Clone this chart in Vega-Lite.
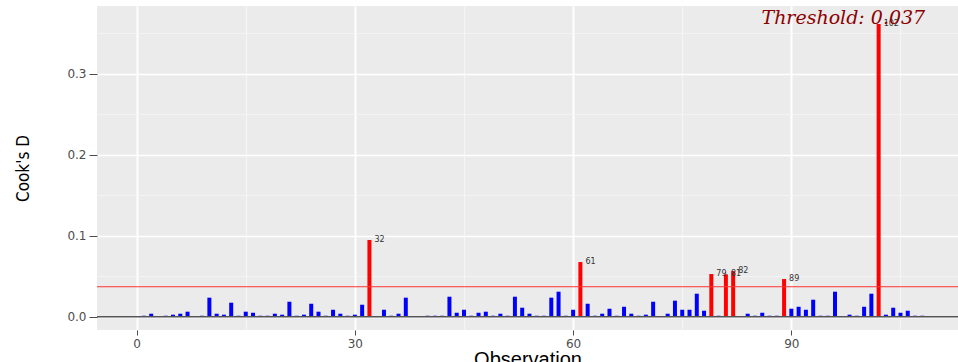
{
  "$schema": "https://vega.github.io/schema/vega-lite/v6.json",
  "width": 861,
  "height": 324,
  "autosize": {"type": "none"},
  "padding": {"left": 97, "top": 6, "right": 0, "bottom": 32},
  "background": "white",
  "config": {
    "view": {"fill": "#EBEBEB", "stroke": null},
    "axis": {
      "labelColor": "#4D4D4D",
      "labelFont": "DejaVu Sans",
      "labelFontSize": 12,
      "tickColor": "#4D4D4D",
      "domain": false,
      "titleFont": "Liberation Sans",
      "titleFontWeight": "normal",
      "titleColor": "black"
    }
  },
  "datasets": {
    "cooks": [
      {"obs": 1, "cd": 0.0012}, {"obs": 2, "cd": 0.0037}, {"obs": 3, "cd": 0.0003}, {"obs": 4, "cd": 0.0012},
      {"obs": 5, "cd": 0.0025}, {"obs": 6, "cd": 0.0037}, {"obs": 7, "cd": 0.0062}, {"obs": 8, "cd": 0.0003},
      {"obs": 9, "cd": 0.0012}, {"obs": 10, "cd": 0.0235}, {"obs": 11, "cd": 0.0037}, {"obs": 12, "cd": 0.0025},
      {"obs": 13, "cd": 0.0173}, {"obs": 14, "cd": 0.0012}, {"obs": 15, "cd": 0.0062}, {"obs": 16, "cd": 0.0049},
      {"obs": 17, "cd": 0.0012}, {"obs": 18, "cd": 0.0012}, {"obs": 19, "cd": 0.0037}, {"obs": 20, "cd": 0.0025},
      {"obs": 21, "cd": 0.0185}, {"obs": 22, "cd": 0.0012}, {"obs": 23, "cd": 0.0025}, {"obs": 24, "cd": 0.016},
      {"obs": 25, "cd": 0.0062}, {"obs": 26, "cd": 0.0012}, {"obs": 27, "cd": 0.0086}, {"obs": 28, "cd": 0.0037},
      {"obs": 29, "cd": 0.0012}, {"obs": 30, "cd": 0.0025}, {"obs": 31, "cd": 0.0148}, {"obs": 32, "cd": 0.0947},
      {"obs": 33, "cd": 0.0003}, {"obs": 34, "cd": 0.0086}, {"obs": 35, "cd": 0.0012}, {"obs": 36, "cd": 0.0037},
      {"obs": 37, "cd": 0.0235}, {"obs": 38, "cd": 0.0003}, {"obs": 39, "cd": 0.0003}, {"obs": 40, "cd": 0.0012},
      {"obs": 41, "cd": 0.0012}, {"obs": 42, "cd": 0.0012}, {"obs": 43, "cd": 0.0247}, {"obs": 44, "cd": 0.0049},
      {"obs": 45, "cd": 0.0086}, {"obs": 46, "cd": 0.0012}, {"obs": 47, "cd": 0.0049}, {"obs": 48, "cd": 0.0062},
      {"obs": 49, "cd": 0.0012}, {"obs": 50, "cd": 0.0037}, {"obs": 51, "cd": 0.0012}, {"obs": 52, "cd": 0.0247},
      {"obs": 53, "cd": 0.0111}, {"obs": 54, "cd": 0.0037}, {"obs": 55, "cd": 0.0012}, {"obs": 56, "cd": 0.0012},
      {"obs": 57, "cd": 0.0235}, {"obs": 58, "cd": 0.0309}, {"obs": 59, "cd": 0.0012}, {"obs": 60, "cd": 0.0086},
      {"obs": 61, "cd": 0.0675}, {"obs": 62, "cd": 0.016}, {"obs": 63, "cd": 0.0012}, {"obs": 64, "cd": 0.0037},
      {"obs": 65, "cd": 0.0099}, {"obs": 66, "cd": 0.0012}, {"obs": 67, "cd": 0.0123}, {"obs": 68, "cd": 0.0037},
      {"obs": 69, "cd": 0.0012}, {"obs": 70, "cd": 0.0025}, {"obs": 71, "cd": 0.0185}, {"obs": 72, "cd": 0.0003},
      {"obs": 73, "cd": 0.0037}, {"obs": 74, "cd": 0.0198}, {"obs": 75, "cd": 0.0086}, {"obs": 76, "cd": 0.0086},
      {"obs": 77, "cd": 0.0284}, {"obs": 78, "cd": 0.0074}, {"obs": 79, "cd": 0.0527}, {"obs": 80, "cd": 0.0012},
      {"obs": 81, "cd": 0.0523}, {"obs": 82, "cd": 0.0564}, {"obs": 83, "cd": 0.0003}, {"obs": 84, "cd": 0.0037},
      {"obs": 85, "cd": 0.0012}, {"obs": 86, "cd": 0.0049}, {"obs": 87, "cd": 0.0012}, {"obs": 88, "cd": 0.0012},
      {"obs": 89, "cd": 0.0465}, {"obs": 90, "cd": 0.0099}, {"obs": 91, "cd": 0.0123}, {"obs": 92, "cd": 0.0086},
      {"obs": 93, "cd": 0.021}, {"obs": 94, "cd": 0.0012}, {"obs": 95, "cd": 0.0012}, {"obs": 96, "cd": 0.0309},
      {"obs": 97, "cd": 0.0003}, {"obs": 98, "cd": 0.0025}, {"obs": 99, "cd": 0.0012}, {"obs": 100, "cd": 0.0123},
      {"obs": 101, "cd": 0.0284}, {"obs": 102, "cd": 0.3614}, {"obs": 103, "cd": 0.0025}, {"obs": 104, "cd": 0.0111},
      {"obs": 105, "cd": 0.0049}, {"obs": 106, "cd": 0.0074}, {"obs": 107, "cd": 0.0012}, {"obs": 108, "cd": 0.0012}
    ],
    "threshold": [{"name": "Threshold", "value": 0.037}]
  },
  "data": {"name": "cooks"},
  "resolve": {"axis": {"x": "independent", "y": "independent"}},
  "layer": [
    {
      "mark": {"type": "point", "opacity": 0},
      "encoding": {
        "x": {
          "field": "obs", "type": "quantitative",
          "scale": {"domain": [-4.76, 112.22], "nice": false, "zero": false},
          "axis": {"orient": "bottom", "values": [15, 45, 75, 105], "grid": true, "gridColor": "#F5F5F5", "gridWidth": 1.2, "labels": false, "ticks": false, "title": null}
        },
        "y": {
          "field": "cd", "type": "quantitative",
          "scale": {"domain": [-0.0164, 0.3836], "nice": false, "zero": false},
          "axis": {"orient": "left", "values": [0.05, 0.15, 0.25, 0.35], "grid": true, "gridColor": "#F5F5F5", "gridWidth": 0.8, "labels": false, "ticks": false, "title": null}
        }
      }
    },
    {
      "mark": {"type": "bar", "size": 4},
      "encoding": {
        "x": {
          "field": "obs", "type": "quantitative",
          "axis": {"orient": "bottom", "values": [0, 30, 60, 90], "grid": true, "gridColor": "white", "gridWidth": 2, "tickSize": 5, "labelPadding": 3, "title": "Observation", "titleFontSize": 20, "titlePadding": 0}
        },
        "y": {
          "field": "cd", "type": "quantitative",
          "axis": {"orient": "left", "values": [0, 0.1, 0.2, 0.3], "format": ".1f", "grid": true, "gridColor": "white", "gridWidth": 1.3, "tickSize": 8, "labelPadding": 3, "title": "Cook's D", "titleFont": "DejaVu Sans Condensed, Liberation Sans Narrow, Liberation Sans", "titleFontSize": 17, "titlePadding": 34}
        },
        "color": {
          "condition": {"test": "datum.cd > 0.037", "value": "#FF0000"},
          "value": "#0000FF"
        }
      }
    },
    {
      "data": {"name": "threshold"},
      "mark": {"type": "rule", "color": "#555555", "strokeWidth": 1.5},
      "encoding": {"y": {"datum": 0, "type": "quantitative", "axis": null}}
    },
    {
      "data": {"name": "threshold"},
      "mark": {"type": "rule", "color": "#FF3333", "strokeWidth": 1},
      "encoding": {"y": {"field": "value", "type": "quantitative", "axis": null}}
    },
    {
      "transform": [{"filter": "datum.cd > 0.037"}],
      "mark": {"type": "text", "align": "left", "baseline": "middle", "dx": 5, "font": "DejaVu Sans", "fontSize": 8, "color": "#333333"},
      "encoding": {
        "x": {"field": "obs", "type": "quantitative", "axis": null},
        "y": {"field": "cd", "type": "quantitative", "axis": null},
        "text": {"field": "obs", "type": "nominal"}
      }
    },
    {
      "data": {"name": "threshold"},
      "mark": {"type": "text", "align": "right", "baseline": "middle", "font": "DejaVu Serif", "fontStyle": "italic", "fontSize": 19, "color": "#8B0000"},
      "encoding": {
        "x": {"datum": 108.4, "type": "quantitative", "axis": null},
        "y": {"datum": 0.3694, "type": "quantitative", "axis": null},
        "text": {"value": "Threshold: 0.037"}
      }
    }
  ]
}
